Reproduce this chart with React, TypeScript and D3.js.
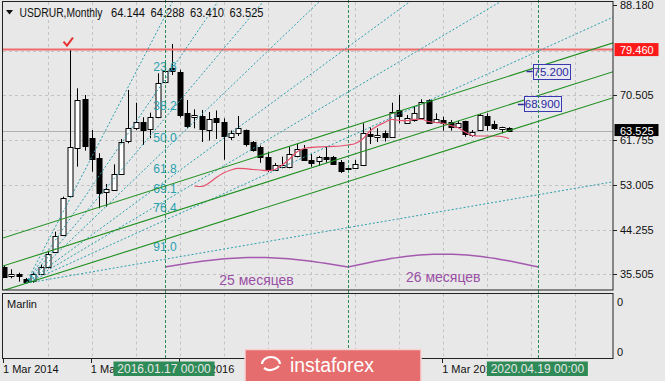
import React from 'react';
import * as d3 from 'd3';

const W = 665;
const H = 381;

// Monthly bars Mar 2014 .. Dec 2019
const months = d3.timeMonth.range(new Date(2014, 2, 1), new Date(2020, 0, 1));

const opens = [
  37.00, 35.04, 35.51, 34.59, 34.26, 35.71, 37.00, 39.93, 43.19, 50.82,
  60.15, 69.79, 62.23, 58.32, 51.66, 51.99, 55.18, 61.45, 64.07, 65.24,
  63.87, 66.22, 73.18, 75.80, 75.14, 67.00, 66.22, 66.47, 63.73, 66.02,
  65.36, 62.42, 63.09, 63.79, 61.29, 60.41, 58.45, 55.91, 56.56, 56.50,
  58.65, 59.96, 57.87, 57.53, 58.45, 58.51, 57.53, 56.20, 56.30, 56.95,
  62.89, 62.27, 63.05, 62.42, 67.55, 65.04, 65.69, 66.22, 69.60, 65.36,
  65.69, 65.36, 64.26, 65.55, 62.75, 63.73, 66.53, 64.91, 63.87, 64.144,
];
const highs = [
  37.33, 36.49, 35.82, 34.79, 36.02, 37.43, 39.93, 43.84, 50.69, 79.46,
  71.89, 70.58, 63.73, 59.18, 53.17, 57.02, 61.97, 71.56, 69.07, 66.22,
  67.12, 74.82, 76.78, 80.55, 75.50, 69.60, 67.78, 67.64, 67.25, 67.55,
  66.02, 63.64, 66.47, 63.83, 61.58, 60.70, 59.49, 57.28, 58.51, 60.47,
  61.13, 60.80, 59.04, 58.65, 60.47, 58.65, 57.87, 56.50, 57.87, 65.04,
  64.22, 64.07, 63.64, 69.07, 70.58, 66.67, 68.43, 69.74, 69.74, 66.99,
  66.33, 65.69, 65.55, 65.55, 63.73, 66.86, 66.99, 65.55, 64.38, 64.288,
];
const lows = [
  34.79, 34.73, 34.06, 33.71, 33.87, 35.38, 36.68, 39.73, 42.99, 50.43,
  56.56, 59.68, 55.58, 48.42, 48.73, 51.86, 55.03, 61.13, 63.73, 60.80,
  62.11, 66.02, 72.87, 74.49, 66.20, 64.06, 64.06, 61.39, 61.68, 61.97,
  57.92, 61.78, 62.56, 60.50, 59.49, 57.30, 55.52, 55.71, 56.24, 56.24,
  58.39, 57.67, 56.56, 56.69, 57.34, 56.89, 55.32, 55.58, 56.11, 56.89,
  60.99, 61.39, 61.48, 62.27, 65.04, 64.91, 65.36, 66.02, 65.04, 65.16,
  63.60, 63.60, 64.07, 62.42, 62.42, 63.60, 63.60, 63.73, 63.09, 63.410,
];
const closes = [
  35.04, 35.51, 35.04, 33.95, 35.57, 37.00, 39.48, 43.06, 50.38, 60.35,
  69.60, 60.59, 58.20, 51.55, 52.25, 55.07, 61.48, 64.07, 65.24, 63.73,
  66.22, 72.87, 75.33, 75.14, 66.67, 64.51, 66.67, 63.87, 65.83, 65.16,
  62.56, 63.24, 64.07, 61.05, 59.82, 58.45, 55.91, 56.98, 56.89, 59.04,
  59.96, 57.87, 57.38, 58.39, 58.00, 57.22, 55.81, 56.30, 57.08, 63.24,
  62.42, 62.75, 62.36, 67.31, 66.28, 66.02, 67.00, 69.27, 65.16, 65.88,
  65.16, 64.38, 65.04, 62.95, 63.28, 66.67, 64.71, 64.07, 64.26, 63.525,
];

// red indicator line (starts at bar 26)
const maStart = 26;
const maValues = [
  52.78, 52.68, 53.37, 54.44, 55.32, 55.91, 56.24, 56.16, 56.00, 55.91,
  55.77, 56.00, 56.89, 58.06, 59.43, 60.11, 60.35, 60.41, 60.47, 60.51,
  60.60, 60.80, 61.09, 61.97, 63.54, 64.52, 65.20, 65.79, 65.59, 65.55,
  65.79, 65.83, 65.40, 65.20, 65.04, 64.61, 64.22, 63.34, 62.66, 62.56,
  62.56, 62.56, 62.46, 62.07,
];

const yTicks = [35.505, 44.255, 53.005, 61.755, 70.505, 79.255];
const yTopValue = 88.18;
const resistance = 79.46;
const lastPrice = 63.525;
const headerName = 'USDRUR,Monthly';
const headerValues = ['64.144', '64.288', '63.410', '63.525'];

// Fibonacci fan
const fanBars = [3, 22];
const fanPrices = [33.75, 86.0];
const fanLevels = [0, 23.6, 38.2, 50.0, 61.8, 69.1, 76.4, 91.0];

// channel (three parallel lines)
const channelBars = [0, 83];
const channelTop = [42.67, 80.69];
const channelMid = [37.19, 75.04];
const channelBottom = [32.38, 69.95];

// price labels
const priceLabelValues = [75.2, 68.9];
const priceLabelBars = [71.4, 70.2];

// vertical time lines and cycles
const vlineBars = [22, 47, 73];
const vlineDates = ['2016.01.17 00:00', '', '2020.04.19 00:00'];
const cycleBase = 36.95;
const cyclePeaks = [38.8, 39.45];
const cycleLabels = ['25 месяцев', '26 месяцев'];

// time axis (labels for 2017 and 2018 sit fully under the watermark)
const axisLabelBars = [0, 12, 24, 60];
const axisLabels = ['1 Mar 2014', '1 Mar 2015', '1 Mar 2016', '1 Mar 2019'];
const axisTickBars = [0, 12, 24, 36, 48, 60];

const FONT = "'Liberation Sans', Arial, sans-serif";

export default function App() {
  const L = 3, R = 613, T = 2, B = 290;
  const subT = 293.5, subB = 358.5;
  const x = d3.scaleLinear().domain([0, 83]).range([4, 4 + 7.32 * 83]);
  const y = d3.scaleLinear().domain([35.505, 88.18]).range([274.3, 5]);
  const px = (v: number) => Math.round(v) + 0.5;

  const gridBars = d3.range(6, 84, 6);

  // fan rays
  const [ob, hb] = fanBars;
  const [op, hp] = fanPrices;
  const fanFarBar = 100;
  const fanLines = fanLevels.map((lv) => {
    const pL = hp - (lv / 100) * (hp - op);
    const pFar = op + (pL - op) * (fanFarBar - ob) / (hb - ob);
    return { lv, pL, x1: x(ob), y1: y(op), x2: x(fanFarBar), y2: y(pFar) };
  });

  const chLine = (vals: number[]) => {
    const slope = (vals[1] - vals[0]) / (channelBars[1] - channelBars[0]);
    const b0 = -3, b1 = 90;
    return {
      x1: x(b0), y1: y(vals[0] + slope * (b0 - channelBars[0])),
      x2: x(b1), y2: y(vals[0] + slope * (b1 - channelBars[0])),
    };
  };
  const channels = [channelTop, channelMid, channelBottom].map(chLine);

  const maLine = d3.line<number>()
    .x((_, i) => x(maStart + i))
    .y((d) => y(d))
    .curve(d3.curveMonotoneX)(maValues) || '';

  const cyclePaths = cyclePeaks.map((peak, c) => {
    const a = vlineBars[c], b = vlineBars[c + 1];
    const pts = d3.range(0, 41).map((k) => {
      const t = k / 40;
      return [x(a + t * (b - a)), y(cycleBase + (peak - cycleBase) * Math.sin(Math.PI * t))] as [number, number];
    });
    return d3.line()(pts) || '';
  });

  const peakX = x(9), peakY = y(resistance);

  return (
    <svg width={W} height={H} style={{ position: 'absolute', left: 0, top: 0, fontFamily: FONT }}>
      <defs>
        <clipPath id="mainClip"><rect x={L} y={T} width={R - L} height={B - T} /></clipPath>
      </defs>
      <rect x={0} y={0} width={W} height={H} fill="#e8e8e8" />

      {/* grid */}
      <g stroke="#c4c4c4" strokeDasharray="3,3" strokeWidth={1}>
        {yTicks.map((t) => (
          <line key={'h' + t} x1={L} x2={R} y1={px(y(t))} y2={px(y(t))} />
        ))}
        {gridBars.map((b) => (
          <line key={'v' + b} x1={px(x(b))} x2={px(x(b))} y1={T} y2={B} />
        ))}
        {gridBars.map((b) => (
          <line key={'vs' + b} x1={px(x(b))} x2={px(x(b))} y1={subT} y2={subB} />
        ))}
      </g>

      <g clipPath="url(#mainClip)">
        <line x1={L} x2={R} y1={px(y(lastPrice))} y2={px(y(lastPrice))} stroke="#b0b0b0" strokeWidth={1} />

        {months.map((m, i) => {
          const cx = px(x(i));
          const o = y(opens[i]), c = y(closes[i]);
          const up = closes[i] >= opens[i];
          const top = Math.min(o, c), bot = Math.max(o, c);
          return (
            <g key={i}>
              <line x1={cx} x2={cx} y1={y(highs[i])} y2={y(lows[i])} stroke="#000" strokeWidth={1} />
              <rect x={cx - 2.5} y={Math.round(top) + 0.5} width={5} height={Math.max(1, Math.round(bot - top))}
                fill={up ? '#fff' : '#000'} stroke="#000" strokeWidth={1} />
            </g>
          );
        })}

        <path d={maLine} fill="none" stroke="#e8506e" strokeWidth={1.2} />

        <line x1={L} x2={R} y1={y(resistance)} y2={y(resistance)} stroke="#f06a6a" strokeWidth={2} />

        <g stroke="#2a9fae" strokeWidth={1} strokeDasharray="2,2">
          {fanLines.map((f) => (
            <line key={f.lv} x1={f.x1} y1={f.y1} x2={f.x2} y2={f.y2} />
          ))}
        </g>
        {fanLines.filter((f) => f.lv > 0).map((f) => (
          <text key={'fl' + f.lv} x={x(hb)} y={y(f.pL) - 8} textAnchor="middle" fontSize={12} fill="#2a9fae">
            {f.lv.toFixed(1)}
          </text>
        ))}

        <g stroke="#1f8f1f" strokeWidth={1.1}>
          {channels.map((c, k) => (
            <line key={k} x1={c.x1} y1={c.y1} x2={c.x2} y2={c.y2} />
          ))}
        </g>

        {cyclePaths.map((d, k) => (
          <path key={k} d={d} fill="none" stroke="#a45aae" strokeWidth={1.5} />
        ))}
        {cycleLabels.map((t, k) => (
          <text key={t} x={x((vlineBars[k] + vlineBars[k + 1]) / 2)} y={y(cyclePeaks[k]) + 28}
            textAnchor="middle" fontSize={14} fill="#9a4fa4">{t}</text>
        ))}

        <path d={`M${peakX - 6.4},${peakY - 7.9} L${peakX - 2.9},${peakY - 3.9} L${peakX + 3.1},${peakY - 11.9}`}
          fill="none" stroke="#e83030" strokeWidth={2} />

        {priceLabelValues.map((v, k) => {
          const lx = x(priceLabelBars[k]);
          const ly = y(v);
          return (
            <g key={v}>
              <line x1={lx} x2={lx + 6} y1={px(ly)} y2={px(ly)} stroke="#2b2b9a" strokeWidth={1.5} />
              <rect x={px(lx + 6)} y={px(ly - 7.5)} width={37} height={15} fill="#e8e8f0" stroke="#3a3ab0" strokeWidth={1} />
              <text x={lx + 24.5} y={ly + 4.5} textAnchor="middle" fontSize={11.5} fill="#2b2b9a">{v.toFixed(3)}</text>
            </g>
          );
        })}
      </g>

      <g stroke="#2e8b57" strokeWidth={1} strokeDasharray="3,2">
        {vlineBars.map((b) => (
          <line key={b} x1={px(x(b))} x2={px(x(b))} y1={0} y2={subB} />
        ))}
      </g>

      <rect x={2.5} y={1.5} width={R - 2.5} height={B - 1.5} fill="none" stroke="#222" strokeWidth={1} />
      <rect x={2.5} y={subT} width={R - 2.5} height={subB - subT} fill="none" stroke="#222" strokeWidth={1} />

      <path d="M6,10 L13,10 L9.5,14.5 Z" fill="#111" />
      <text x={19.5} y={16.5} fontSize={12} fill="#111" textLength={83} lengthAdjust="spacingAndGlyphs">{headerName}</text>
      {headerValues.map((v, k) => (
        <text key={k} x={111 + k * 39.5} y={16.5} fontSize={12} fill="#111" textLength={34} lengthAdjust="spacingAndGlyphs">{v}</text>
      ))}

      <g fontSize={11} fill="#111">
        {[yTopValue, ...yTicks.filter((t) => Math.abs(y(t) - y(resistance)) > 8)].map((t) => (
          <g key={'yt' + t}>
            <line x1={R} x2={R + 4} y1={px(Math.max(5, y(t)))} y2={px(Math.max(5, y(t)))} stroke="#222" />
            <text x={620} y={Math.max(5, y(t)) + 4}>{t.toFixed(3)}</text>
          </g>
        ))}
      </g>
      <rect x={614.5} y={y(resistance) - 6.5} width={44} height={13} fill="#ff1a1a" />
      <text x={620} y={y(resistance) + 4} fontSize={11} fill="#fff">{resistance.toFixed(3)}</text>
      <rect x={614.5} y={y(lastPrice) - 7} width={44} height={12} fill="#000" />
      <text x={620} y={y(lastPrice) + 3.5} fontSize={11} fill="#fff">{lastPrice.toFixed(3)}</text>

      <text x={7} y={308} fontSize={11} fill="#111">Marlin</text>
      <text x={617} y={306} fontSize={11} fill="#111">0</text>
      <text x={617} y={356} fontSize={11} fill="#111">0</text>

      {axisTickBars.map((b) => (
        <line key={'xt' + b} x1={px(x(b) - 1)} x2={px(x(b) - 1)} y1={subB} y2={subB + 4.5} stroke="#222" />
      ))}
      {axisLabelBars.map((b, k) => (
        <text key={'xl' + b} x={x(b) - 1} y={373} fontSize={11} fill="#111">{axisLabels[k]}</text>
      ))}

      {vlineBars.map((b, k) => vlineDates[k] ? (
        <g key={'db' + b}>
          <rect x={x(b) - 51.5} y={361.5} width={101} height={14.5} fill="#2e8b57" />
          <text x={x(b) - 1} y={373} textAnchor="middle" fontSize={12} fill="#e6e6e6">{vlineDates[k]}</text>
        </g>
      ) : null)}

      <rect x={245} y={349.5} width={176} height={34} fill="#e56d6d" stroke="#f6d4d4" strokeWidth={1.5} />
      <g fill="none" stroke="#fff" strokeWidth={2.2}>
        <path d="M262,364 A9,7 0 1,1 280,364" />
        <path d="M264,368 Q271,373 279,366" />
      </g>
      <text x={290} y={372} fontSize={20} fill="#fff" textLength={84} lengthAdjust="spacingAndGlyphs">instaforex</text>
    </svg>
  );
}
